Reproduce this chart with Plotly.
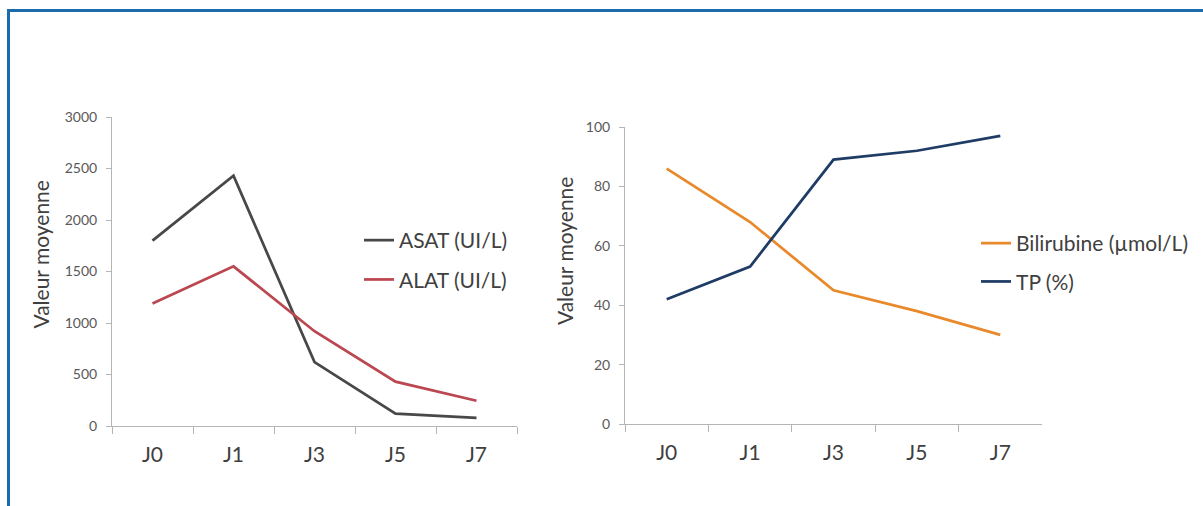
import plotly.graph_objects as go

# Days of follow-up
jours = ["J0", "J1", "J3", "J5", "J7"]

# Liver enzymes (UI/L)
asat = [1800, 2430, 620, 120, 80]
alat = [1190, 1550, 920, 430, 245]

# Bilirubin (µmol/L) and prothrombin time (%)
bilirubine = [86, 68, 45, 38, 30]
tp = [42, 53, 89, 92, 97]

W, H = 1203, 506
FONT = "Lato, 'Open Sans', sans-serif"
TXT = "#404040"
TICK = "#595959"
AXIS = "#b5b5b5"


def px(x):
    return x / W


def py(y):
    return 1 - y / H


fig = go.Figure()

fig.add_trace(go.Scatter(x=jours, y=asat, name="ASAT (UI/L)", mode="lines",
                         line=dict(color="#484848", width=2.75),
                         xaxis="x", yaxis="y", legend="legend", legendgroup="a"))
fig.add_trace(go.Scatter(x=jours, y=alat, name="ALAT (UI/L)", mode="lines",
                         line=dict(color="#bb4750", width=2.75),
                         xaxis="x", yaxis="y", legend="legend", legendgroup="b"))
fig.add_trace(go.Scatter(x=jours, y=bilirubine, name="Bilirubine (µmol/L)", mode="lines",
                         line=dict(color="#e8892c", width=2.75),
                         xaxis="x2", yaxis="y2", legend="legend2", legendgroup="c"))
fig.add_trace(go.Scatter(x=jours, y=tp, name="TP (%)", mode="lines",
                         line=dict(color="#1f3c66", width=2.75),
                         xaxis="x2", yaxis="y2", legend="legend2", legendgroup="d"))

xcommon = dict(type="category", range=[-0.5, 4.5], tickson="boundaries",
               ticks="outside", ticklen=7, tickcolor=AXIS, showline=True,
               linecolor=AXIS, linewidth=1, showgrid=False, zeroline=False,
               automargin=False, ticklabelstandoff=10,
               tickfont=dict(family=FONT, size=21, color=TXT), fixedrange=True)
ycommon = dict(ticks="outside", ticklen=5, tickcolor=AXIS, showline=True,
               linecolor=AXIS, linewidth=1, showgrid=False, zeroline=False,
               automargin=False, ticklabelstandoff=6,
               tickfont=dict(family=FONT, size=14, color=TICK), fixedrange=True)

title_font = dict(family=FONT, size=21, color=TXT)
legend_font = dict(family=FONT, size=21, color=TXT)

fig.update_layout(
    width=W, height=H,
    margin=dict(l=0, r=0, t=0, b=0),
    paper_bgcolor="white", plot_bgcolor="white",
    font=dict(family=FONT, color=TXT),
    xaxis=dict(domain=[px(112), px(517)], anchor="y", **xcommon),
    yaxis=dict(domain=[py(426), py(117)], anchor="x", range=[0, 3000],
               tickvals=[0, 500, 1000, 1500, 2000, 2500, 3000], **ycommon),
    xaxis2=dict(domain=[px(625), px(1042)], anchor="y2", **xcommon),
    yaxis2=dict(domain=[py(424), py(127)], anchor="x2", range=[0, 100],
                tickvals=[0, 20, 40, 60, 80, 100], **ycommon),
    legend=dict(x=px(359), y=py(220), xanchor="left", yanchor="top",
                font=legend_font, bgcolor="rgba(0,0,0,0)",
                tracegroupgap=9, itemwidth=30),
    legend2=dict(x=px(976), y=py(223), xanchor="left", yanchor="top",
                 font=legend_font, bgcolor="rgba(0,0,0,0)",
                 tracegroupgap=8, itemwidth=30),
    annotations=[
        dict(text="Valeur moyenne", textangle=-90, xref="paper", yref="paper",
             x=px(39.5), y=py(255), xanchor="center", yanchor="middle",
             showarrow=False, font=title_font),
        dict(text="Valeur moyenne", textangle=-90, xref="paper", yref="paper",
             x=px(564), y=py(251), xanchor="center", yanchor="middle",
             showarrow=False, font=title_font),
    ],
    shapes=[
        # blue frame along the top and left edges
        dict(type="line", xref="paper", yref="paper", x0=px(7), x1=1,
             y0=py(10.5), y1=py(10.5), line=dict(color="#1c6bab", width=3)),
        dict(type="line", xref="paper", yref="paper", x0=px(8.5), x1=px(8.5),
             y0=0, y1=py(9), line=dict(color="#1c6bab", width=3)),
    ],
)

# the page body has a default 8px margin; remove it so the figure sits at the origin
fig.write_html("out.html", post_script="document.body.style.margin='0';")
